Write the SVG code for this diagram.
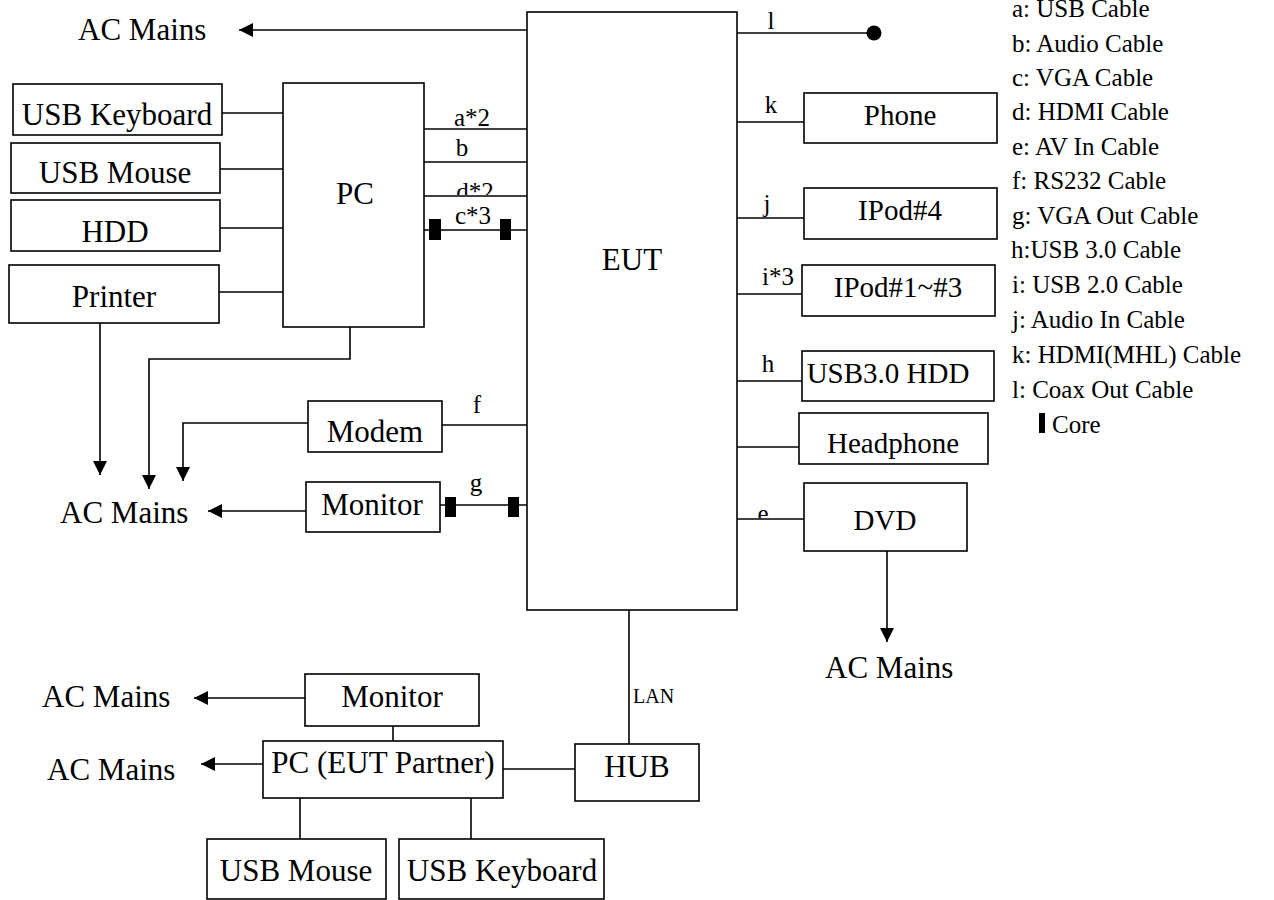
<svg xmlns="http://www.w3.org/2000/svg" width="1274" height="900" viewBox="0 0 1274 900">
<style>
  .box{fill:#fff;stroke:#000;stroke-width:1.6}
  .ln{fill:none;stroke:#000;stroke-width:1.6}
  .arr{fill:none;stroke:#000;stroke-width:1.6;marker-end:url(#ah)}
  text{font-family:"Liberation Serif","Times New Roman",serif;fill:#000}
  .big{font-size:31px;text-anchor:middle}
  .mid{font-size:29px;text-anchor:middle}
  .ac{font-size:31px}
  .lbl{font-size:25px;text-anchor:middle}
  .leg{font-size:25px}
  .core{fill:#000}
</style>
<defs>
  <marker id="ah" markerUnits="userSpaceOnUse" markerWidth="16" markerHeight="14" refX="14" refY="7" orient="auto">
    <path d="M0,0 L14,7 L0,14 Z" fill="#000"/>
  </marker>
  <clipPath id="clipD"><rect x="440" y="170" width="80" height="25"/></clipPath>
  <clipPath id="clipE"><rect x="740" y="490" width="50" height="28"/></clipPath>
</defs>

<g id="connectors">
  <!-- EUT to top AC Mains -->
  <path class="arr" d="M527,30 H239"/>
  <!-- left peripherals to PC -->
  <path class="ln" d="M222,113 H283"/>
  <path class="ln" d="M220,169 H283"/>
  <path class="ln" d="M220,228 H283"/>
  <path class="ln" d="M219,292 H283"/>
  <!-- PC to EUT -->
  <path class="ln" d="M424,129 H527"/>
  <path class="ln" d="M424,162 H527"/>
  <path class="ln" d="M424,196 H527"/>
  <path class="ln" d="M424,230 H527"/>
  <rect class="core" x="429" y="219" width="12" height="21"/>
  <rect class="core" x="500" y="219" width="11" height="21"/>
  <!-- power -->
  <path class="arr" d="M100,323 V475"/>
  <path class="arr" d="M350,327 V359 H149 V489"/>
  <path class="arr" d="M308,423 H183 V481"/>
  <path class="arr" d="M306,511 H208"/>
  <!-- modem / monitor to EUT -->
  <path class="ln" d="M442,425 H527"/>
  <path class="ln" d="M440,505 H527"/>
  <rect class="core" x="445" y="497" width="11" height="20"/>
  <rect class="core" x="508" y="497" width="11" height="20"/>
  <!-- right side -->
  <path class="ln" d="M737,33 H874"/>
  <circle cx="874" cy="33" r="7.5" fill="#000"/>
  <path class="ln" d="M737,122 H804"/>
  <path class="ln" d="M737,218 H804"/>
  <path class="ln" d="M737,294 H802"/>
  <path class="ln" d="M737,381 H802"/>
  <path class="ln" d="M737,447 H799"/>
  <path class="ln" d="M737,519 H804"/>
  <path class="arr" d="M887,551 V642"/>
  <!-- LAN -->
  <path class="ln" d="M629,610 V744"/>
  <path class="ln" d="M503,769 H575"/>
  <path class="ln" d="M393,726 V741"/>
  <path class="arr" d="M305,698 H194"/>
  <path class="arr" d="M263,764 H201"/>
  <path class="ln" d="M300,798 V839"/>
  <path class="ln" d="M471,798 V839"/>
</g>

<g id="labels">
  <text class="lbl" x="472" y="126">a*2</text>
  <text class="lbl" x="462" y="156">b</text>
  <text class="lbl" x="475" y="200" clip-path="url(#clipD)">d*2</text>
  <text class="lbl" x="473" y="224">c*3</text>
  <text class="lbl" x="477" y="413">f</text>
  <text class="lbl" x="476" y="491">g</text>
  <text class="lbl" x="771" y="29">l</text>
  <text class="lbl" x="771" y="113">k</text>
  <text class="lbl" x="767" y="212">j</text>
  <text class="lbl" x="778" y="285">i*3</text>
  <text class="lbl" x="768" y="372">h</text>
  <text class="lbl" x="763" y="522" clip-path="url(#clipE)">e</text>
  <text x="633" y="703" style="font-size:20px">LAN</text>
  <text class="ac" x="78" y="40">AC Mains</text>
  <text class="ac" x="60" y="523">AC Mains</text>
  <text class="ac" x="825" y="678">AC Mains</text>
  <text class="ac" x="42" y="707">AC Mains</text>
  <text class="ac" x="47" y="780">AC Mains</text>
</g>

<g id="legend" class="leg">
  <text class="leg" x="1012" y="17">a: USB Cable</text>
  <text class="leg" x="1012" y="52">b: Audio Cable</text>
  <text class="leg" x="1012" y="86">c: VGA Cable</text>
  <text class="leg" x="1012" y="120">d: HDMI Cable</text>
  <text class="leg" x="1012" y="155">e: AV In Cable</text>
  <text class="leg" x="1012" y="189">f: RS232 Cable</text>
  <text class="leg" x="1012" y="224">g: VGA Out Cable</text>
  <text class="leg" x="1011" y="258">h:USB 3.0 Cable</text>
  <text class="leg" x="1012" y="293">i: USB 2.0 Cable</text>
  <text class="leg" x="1012" y="328">j: Audio In Cable</text>
  <text class="leg" x="1012" y="363">k: HDMI(MHL) Cable</text>
  <text class="leg" x="1012" y="398">l: Coax Out Cable</text>
  <rect class="core" x="1039" y="413" width="6" height="20"/>
  <text class="leg" x="1052" y="433">Core</text>
</g>

<g id="eut"><rect class="box" x="527" y="12" width="210" height="598"/><text class="big" x="632" y="270">EUT</text></g>
<g id="pc"><rect class="box" x="283" y="83" width="141" height="244"/><text class="big" x="355" y="204">PC</text></g>
<g id="usb-keyboard"><rect class="box" x="13" y="84" width="209" height="51"/><text class="big" x="117" y="125">USB Keyboard</text></g>
<g id="usb-mouse"><rect class="box" x="11" y="143" width="209" height="50"/><text class="big" x="115" y="183">USB Mouse</text></g>
<g id="hdd"><rect class="box" x="11" y="200" width="209" height="51"/><text class="big" x="115" y="242">HDD</text></g>
<g id="printer"><rect class="box" x="9" y="265" width="210" height="58"/><text class="big" x="114" y="307">Printer</text></g>
<g id="modem"><rect class="box" x="308" y="401" width="134" height="51"/><text class="big" x="375" y="442">Modem</text></g>
<g id="monitor"><rect class="box" x="306" y="482" width="134" height="50"/><text class="big" x="372" y="515">Monitor</text></g>
<g id="phone"><rect class="box" x="804" y="93" width="193" height="50"/><text class="mid" x="900" y="125">Phone</text></g>
<g id="ipod4"><rect class="box" x="804" y="188" width="193" height="51"/><text class="mid" x="900" y="220">IPod#4</text></g>
<g id="ipod1-3"><rect class="box" x="802" y="265" width="193" height="51"/><text class="mid" x="898" y="297">IPod#1~#3</text></g>
<g id="usb30-hdd"><rect class="box" x="802" y="351" width="192" height="50"/><text class="mid" x="888" y="383">USB3.0 HDD</text></g>
<g id="headphone"><rect class="box" x="799" y="413" width="189" height="51"/><text class="mid" x="893" y="453">Headphone</text></g>
<g id="dvd"><rect class="box" x="804" y="483" width="163" height="68"/><text class="mid" x="885" y="530">DVD</text></g>
<g id="hub"><rect class="box" x="575" y="744" width="124" height="57"/><text class="big" x="637" y="777">HUB</text></g>
<g id="monitor2"><rect class="box" x="305" y="674" width="174" height="52"/><text class="big" x="392" y="707">Monitor</text></g>
<g id="pc-partner"><rect class="box" x="263" y="741" width="240" height="57"/><text class="big" x="383" y="773">PC (EUT Partner)</text></g>
<g id="usb-mouse2"><rect class="box" x="207" y="839" width="179" height="60"/><text class="big" x="296" y="881">USB Mouse</text></g>
<g id="usb-keyboard2"><rect class="box" x="399" y="839" width="205" height="60"/><text class="big" x="502" y="881">USB Keyboard</text></g>
</svg>
